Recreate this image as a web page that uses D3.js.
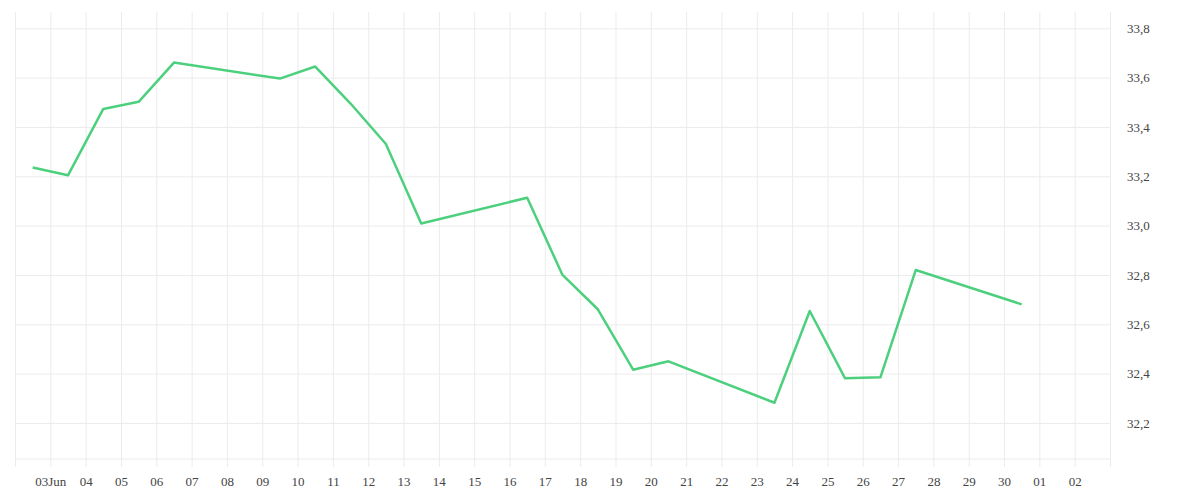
<html>
<head>
<style>
  body { margin: 0; background: #fff; }
  .tick text { font-family: "Liberation Serif", serif; font-size: 13px; fill: #444; }
  .tick line { stroke: #ececec; }
</style>
<script src="https://d3js.org/d3.v7.min.js"></script>
</head>
<body>
<script>
// trading days (noon) and closing values
const days = ["2014-06-02", "2014-06-03", "2014-06-04", "2014-06-05", "2014-06-06",
              "2014-06-09", "2014-06-10", "2014-06-11", "2014-06-12", "2014-06-13",
              "2014-06-16", "2014-06-17", "2014-06-18", "2014-06-19", "2014-06-20",
              "2014-06-23", "2014-06-24", "2014-06-25", "2014-06-26", "2014-06-27",
              "2014-06-30"];
const values = [33.236, 33.204, 33.473, 33.502, 33.661,
                33.596, 33.645, 33.495, 33.331, 33.009,
                33.113, 32.800, 32.661, 32.416, 32.450,
                32.282, 32.654, 32.381, 32.385, 32.820,
                32.681];
const yTicks = [32.2, 32.4, 32.6, 32.8, 33.0, 33.2, 33.4, 33.6, 33.8];

const w = 1200, h = 500;
const plotLeft = 15, plotRight = 1110, plotTop = 12, plotBottom = 459;

const parse = d3.timeParse("%Y-%m-%d %H");
const data = days.map((d, i) => ({ date: parse(d + " 12"), value: values[i] }));

const xScale = d3.scaleTime()
    .domain([parse("2014-06-02 00"), parse("2014-07-03 00")])
    .range([plotLeft, plotRight]);
const yScale = d3.scaleLinear()
    .domain([32.054, 33.866])
    .range([plotBottom, plotTop]);

const svg = d3.select("body").append("svg")
    .attr("width", w)
    .attr("height", h);

const fmtDay = d3.timeFormat("%d");
const xTicks = d3.timeDay.range(parse("2014-06-02 00"), parse("2014-07-04 00"));
const xAxis = d3.axisBottom(xScale)
    .tickValues(xTicks)
    .tickSize(-(467 - plotTop))
    .tickPadding(10)
    .tickFormat((d, i) => {
        if (i === 0 || i === xTicks.length - 1) return "";
        if (i === 1) return fmtDay(d) + "Jun";
        return fmtDay(d);
    });
const yAxis = d3.axisRight(yScale)
    .tickValues(yTicks)
    .tickSize(-(plotRight - plotLeft))
    .tickPadding(17)
    .tickFormat(d => d3.format(".1f")(d).replace(".", ","));

svg.append("g")
    .attr("transform", "translate(0," + 467 + ")")
    .call(xAxis)
    .call(g => g.select(".domain").remove());
svg.append("g")
    .attr("transform", "translate(" + plotRight + ",0)")
    .call(yAxis)
    .call(g => g.select(".domain").remove());

svg.append("line")
    .attr("x1", plotLeft).attr("x2", plotRight)
    .attr("y1", plotBottom).attr("y2", plotBottom)
    .attr("stroke", "#ececec");

const line = d3.line()
    .x(d => xScale(d.date))
    .y(d => yScale(d.value));

svg.append("path")
    .datum(data)
    .attr("fill", "none")
    .attr("stroke", "#4cd07d")
    .attr("stroke-width", 2.5)
    .attr("stroke-linejoin", "round")
    .attr("d", line);
</script>
</body>
</html>
